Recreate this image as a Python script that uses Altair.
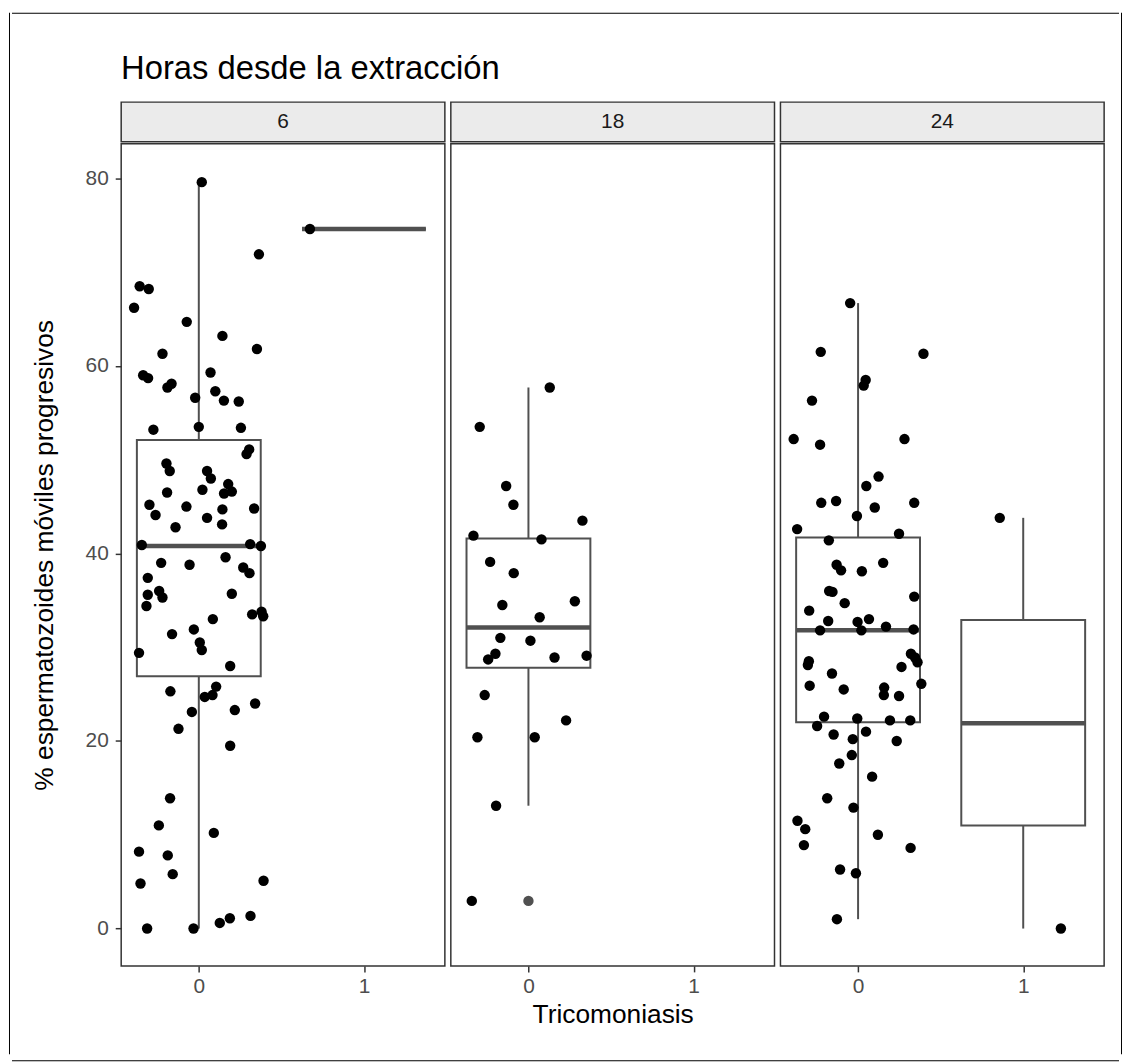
import altair as alt
import pandas as pd

# ---------------- data ----------------
hours = [6, 18, 24]
strip_labels = ["6", "18", "24"]
x_ticks = [0, 1]
y_ticks = [0, 20, 40, 60, 80]

# jittered observations (x = Tricomoniasis group + jitter, y = % progressive motile)
h6_x = [0.018, 0.364, -0.358, -0.303, -0.392, -0.073, 0.143, -0.22, 0.352, -0.337,
        -0.307, -0.19, -0.165, 0.071, 0.10, -0.022, 0.152, 0.242,
        0.0, 0.255, -0.275, 0.305, 0.289, -0.196, -0.176, 0.05, 0.073, 0.178,
        0.153, 0.2, 0.022, -0.192, -0.299, -0.262, -0.075, 0.143, 0.335, 0.05,
        0.141, -0.141, -0.345, 0.311, 0.376, -0.228, -0.056, 0.162, 0.269, 0.307,
        -0.309, -0.309, -0.24, -0.22, -0.317, 0.2, 0.323, 0.38, 0.39, 0.085,
        -0.162, -0.03, 0.006, 0.018, -0.362, 0.19,
        0.105, 0.083, 0.036, -0.172, 0.341, 0.218, -0.042, -0.123, 0.19, -0.174,
        -0.242, 0.091, -0.362, -0.188, -0.158, -0.353, 0.392, 0.313, 0.188, 0.127,
        -0.313, -0.032,
        0.673]
h6_y = [79.6, 71.9, 68.5, 68.2, 66.2, 64.7, 63.2, 61.3, 61.8, 59.0,
        58.7, 57.7, 58.1, 59.3, 57.3, 56.6, 56.3, 56.2,
        53.5, 53.4, 53.2, 51.1, 50.6, 49.6, 48.8, 48.8, 48.0, 47.4,
        46.4, 46.6, 46.8, 46.5, 45.2, 44.1, 45.0, 44.7, 44.8, 43.8,
        43.1, 42.8, 40.9, 41.0, 40.8, 39.0, 38.8, 39.6, 38.5, 37.9,
        37.4, 35.6, 36.0, 35.3, 34.4, 35.7, 33.5, 33.8, 33.3, 33.0,
        31.4, 31.9, 30.5, 29.7, 29.4, 28.0,
        25.8, 24.9, 24.7, 25.3, 24.0, 23.3, 23.1, 21.3, 19.5, 13.9,
        11.0, 10.2, 8.2, 7.8, 5.8, 4.8, 5.1, 1.35, 1.1, 0.6,
        0.0, 0.0,
        74.6]

h18_x = [0.129, -0.295, -0.135, -0.091, 0.327, -0.333, 0.079, -0.232, -0.089, -0.158,
         0.281, 0.068, -0.17, 0.012, -0.2, -0.244, 0.158, 0.352, -0.265, 0.228,
         -0.309, 0.038, -0.196, -0.343]
h18_y = [57.7, 53.5, 47.2, 45.2, 43.5, 41.9, 41.5, 39.1, 37.9, 34.5,
         34.9, 33.2, 31.0, 30.7, 29.3, 28.7, 28.9, 29.1, 24.9, 22.2,
         20.4, 20.4, 13.1, 2.95]

h24_x = [-0.048, -0.226, 0.396, 0.046, 0.034, -0.279, -0.39, -0.23, 0.281, 0.124,
         0.05, -0.223, -0.133, 0.101, 0.34, -0.007, -0.369, 0.248, -0.177, -0.13,
         -0.103, 0.023, 0.152, -0.175, -0.155, 0.34, -0.081, -0.296, -0.181, -0.003,
         0.066, 0.02, 0.169, -0.23, 0.336, 0.32, 0.345, 0.36, -0.298, -0.304,
         0.263, -0.158, -0.293, 0.383, -0.087, 0.158, 0.156, 0.248, -0.206, -0.005,
         0.193, 0.316, -0.248, -0.148, 0.048, -0.032, 0.234, -0.038, -0.114, 0.085,
         -0.187, -0.028, -0.367, -0.32, -0.328, 0.12, 0.318, -0.109, -0.013, -0.128,
         0.858, 1.228]
h24_y = [66.7, 61.5, 61.3, 58.5, 57.9, 56.3, 52.2, 51.6, 52.2, 48.2,
         47.2, 45.4, 45.6, 44.9, 45.4, 44.0, 42.6, 42.1, 41.4, 38.8,
         38.2, 38.1, 39.0, 36.0, 35.9, 35.4, 34.7, 33.9, 32.8, 32.7,
         33.0, 31.8, 32.2, 31.8, 31.9, 29.3, 28.9, 28.4, 28.5, 28.1,
         27.9, 27.2, 25.9, 26.1, 25.5, 25.7, 24.9, 24.8, 22.6, 22.4,
         22.2, 22.2, 21.6, 20.7, 21.0, 20.2, 20.0, 18.5, 17.6, 16.2,
         13.9, 12.9, 11.5, 10.6, 8.9, 10.0, 8.6, 6.3, 5.9, 1.0,
         43.8, 0.0]

# boxplot statistics
box_hora = [6, 6, 18, 24, 24]
box_grp = [0, 1, 0, 0, 1]
box_lo = [0.0, 74.6, 13.1, 1.0, 0.0]
box_q1 = [26.9, 74.6, 27.8, 22.0, 11.0]
box_med = [40.8, 74.6, 32.1, 31.8, 21.9]
box_q3 = [52.1, 74.6, 41.6, 41.7, 32.9]
box_hi = [79.6, 74.6, 57.7, 66.7, 43.8]

# boxplot outliers
out_hora = [18]
out_grp = [0]
out_y = [2.95]

# ---------------- tables ----------------
pts = pd.DataFrame({
    "hora": [6] * len(h6_x) + [18] * len(h18_x) + [24] * len(h24_x),
    "x": h6_x + h18_x + h24_x,
    "y": h6_y + h18_y + h24_y,
})
box = pd.DataFrame({"hora": box_hora, "grp": box_grp, "lo": box_lo, "q1": box_q1,
                    "med": box_med, "q3": box_q3, "hi": box_hi})
outl = pd.DataFrame({"hora": out_hora, "grp": out_grp, "y": out_y})

# ---------------- style ----------------
FONT = "Liberation Sans"
W, H = 326, 828
STRIP_H = 40
XDOM = [-0.47, 1.49]
YDOM = [-3.985, 83.685]
BOXC = "#505050"
BORDER = "#333333"
FW, FH = 1117, 1049
PT = 110

xs = alt.Scale(domain=XDOM, nice=False, zero=False)
ys = alt.Scale(domain=YDOM, nice=False, zero=False)


def x_axis(with_title):
    kw = dict(values=x_ticks, format="d", grid=False, domain=False,
              tickSize=6, tickColor=BORDER, tickWidth=1.5,
              labelFont=FONT, labelFontSize=21, labelColor="#4D4D4D", labelPadding=4)
    if with_title:
        return alt.Axis(title="Tricomoniasis", titleFont=FONT, titleFontSize=26.5,
                        titleFontWeight="normal", titleColor="black", titlePadding=5, **kw)
    return alt.Axis(title=None, **kw)


def y_axis():
    return alt.Axis(values=y_ticks, grid=False, domain=False,
                    tickSize=6, tickColor=BORDER, tickWidth=1.5,
                    labelFont=FONT, labelFontSize=21, labelColor="#4D4D4D", labelPadding=7,
                    title="% espermatozoides móviles progresivos", titleFont=FONT,
                    titleFontSize=26.5, titleFontWeight="normal", titleColor="black",
                    titlePadding=27)


def panel(h, first, middle):
    xa = x_axis(middle)
    ya = y_axis() if first else None
    b = box[box.hora == h]
    p = pts[pts.hora == h]
    o = outl[outl.hora == h]

    def X(f):
        return alt.X(f, scale=xs, axis=xa)

    def Y(f):
        if ya is None:
            return alt.Y(f, scale=ys, axis=None)
        return alt.Y(f, scale=ys, axis=ya)

    bb = alt.Chart(b).transform_calculate(xl="datum.grp - 0.375", xr="datum.grp + 0.375")
    up = bb.mark_rule(color=BOXC, strokeWidth=2).encode(x=X("grp:Q"), y=Y("q3:Q"), y2="hi:Q")
    dn = bb.mark_rule(color=BOXC, strokeWidth=2).encode(x=X("grp:Q"), y=Y("lo:Q"), y2="q1:Q")
    rect = bb.mark_rect(fill="white", stroke=BOXC, strokeWidth=2).encode(
        x=X("xl:Q"), x2="xr:Q", y=Y("q1:Q"), y2="q3:Q")
    med = bb.mark_rule(color=BOXC, strokeWidth=4.5).encode(x=X("xl:Q"), x2="xr:Q", y=Y("med:Q"))
    layers = [up, dn, rect, med]
    if len(o):
        layers.append(alt.Chart(o).mark_circle(size=PT, color=BOXC, opacity=1).encode(
            x=X("grp:Q"), y=Y("y:Q")))
    layers.append(alt.Chart(p).mark_circle(size=PT, color="black", opacity=1).encode(
        x=X("x:Q"), y=Y("y:Q")))
    return alt.layer(*layers).properties(
        width=W, height=H,
        view=alt.ViewBackground(fill="white", stroke=BORDER, strokeWidth=1.5))


def strip(label):
    return alt.Chart(pd.DataFrame({"lab": [label]})).mark_text(
        font=FONT, fontSize=21, color="#1A1A1A", align="center", baseline="middle"
    ).encode(text="lab:N").properties(
        width=W, height=STRIP_H,
        view=alt.ViewBackground(fill="#EBEBEB", stroke=BORDER, strokeWidth=1.5))


cols = []
for i, (h, lab) in enumerate(zip(hours, strip_labels)):
    cols.append(alt.vconcat(strip(lab), panel(h, i == 0, i == 1), spacing=0))

content = alt.hconcat(*cols, spacing=4).properties(
    title=alt.TitleParams(text="Horas desde la extracción", anchor="start", font=FONT,
                          fontSize=33, fontWeight="normal", color="black", dx=91, offset=16))

one = pd.DataFrame({"k": [0]})


def bar(w, h, visible=True):
    return alt.Chart(one).mark_rect(color="black", opacity=1 if visible else 0).encode(
        x=alt.value(0), x2=alt.value(w), y=alt.value(0), y2=alt.value(h)
    ).properties(width=w, height=h, view=alt.ViewBackground(stroke="transparent"))


inner_row = alt.hconcat(bar(1, 1, False), content, spacing=16)
col = alt.vconcat(bar(FW - 2, 1), alt.vconcat(inner_row, bar(FW - 2, 1), spacing=30), spacing=38)
chart = alt.hconcat(bar(1, FH), col, bar(1, FH), spacing=0).properties(
    padding=0, background="white")

chart.save("out.html", embed_options={"renderer": "svg", "actions": False})
